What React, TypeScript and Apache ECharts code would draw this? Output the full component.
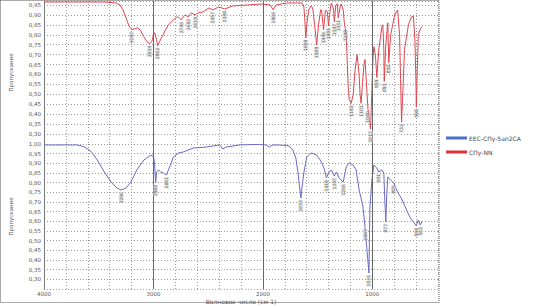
import React, { useEffect, useRef } from "react";
import * as echarts from "echarts";

// Top panel (red) spectrum: [wavenumber cm-1, transmittance]
const redSpectrum: [number, number][] = [
  [4000, 0.965], [3720, 0.965], [3449, 0.965], [3341, 0.96], [3305, 0.95], [3278, 0.925],
  [3251, 0.885], [3224, 0.845], [3197, 0.825], [3170, 0.83], [3143, 0.835], [3116, 0.82],
  [3088, 0.79], [3061, 0.765], [3034, 0.755], [3016, 0.765], [2998, 0.8], [2989, 0.81],
  [2971, 0.775], [2962, 0.745], [2944, 0.765], [2917, 0.795], [2890, 0.825], [2863, 0.85],
  [2836, 0.865], [2809, 0.88], [2782, 0.89], [2764, 0.885], [2746, 0.875], [2727, 0.89],
  [2709, 0.9], [2682, 0.89], [2655, 0.91], [2619, 0.9], [2592, 0.91], [2547, 0.915],
  [2493, 0.935], [2457, 0.925], [2403, 0.94], [2348, 0.93], [2276, 0.945], [2141, 0.95],
  [2006, 0.955], [1933, 0.95], [1906, 0.925], [1879, 0.95], [1780, 0.96], [1644, 0.96],
  [1626, 0.945], [1617, 0.875], [1608, 0.785], [1599, 0.85], [1581, 0.925], [1563, 0.945],
  [1545, 0.935], [1527, 0.85], [1509, 0.75], [1491, 0.85], [1473, 0.925], [1464, 0.925],
  [1446, 0.825], [1428, 0.925], [1410, 0.915], [1401, 0.845], [1383, 0.935], [1374, 0.96],
  [1356, 0.935], [1347, 0.865], [1334, 0.95], [1320, 0.955], [1311, 0.885], [1293, 0.945],
  [1284, 0.955], [1266, 0.925], [1257, 0.865], [1248, 0.835], [1239, 0.8], [1230, 0.675],
  [1221, 0.55], [1212, 0.475], [1193, 0.455], [1175, 0.5], [1157, 0.625], [1139, 0.7],
  [1121, 0.6], [1112, 0.5], [1103, 0.455], [1094, 0.525], [1076, 0.65], [1067, 0.675],
  [1053, 0.55], [1040, 0.425], [1031, 0.4], [1017, 0.325], [1004, 0.525], [995, 0.675],
  [986, 0.74], [972, 0.7], [959, 0.585], [941, 0.725], [913, 0.84], [904, 0.85],
  [895, 0.725], [891, 0.565], [877, 0.75], [859, 0.86], [850, 0.66], [832, 0.8],
  [796, 0.9], [769, 0.925], [751, 0.8], [742, 0.575], [733, 0.36], [724, 0.475],
  [706, 0.725], [670, 0.85], [643, 0.89], [625, 0.895], [611, 0.775], [602, 0.575],
  [598, 0.435], [589, 0.625], [580, 0.8], [562, 0.83], [544, 0.84],
];

// Bottom panel (blue) spectrum
const blueSpectrum: [number, number][] = [
  [4000, 0.995], [3810, 0.995], [3693, 0.995], [3630, 0.985], [3567, 0.96], [3513, 0.917],
  [3449, 0.855], [3386, 0.803], [3332, 0.772], [3296, 0.762], [3251, 0.772], [3206, 0.803],
  [3152, 0.866], [3088, 0.917], [3025, 0.943], [2998, 0.933], [2989, 0.891], [2980, 0.8],
  [2971, 0.855], [2953, 0.866], [2935, 0.855], [2908, 0.85], [2881, 0.84], [2863, 0.866],
  [2845, 0.891], [2818, 0.933], [2773, 0.953], [2727, 0.959], [2637, 0.979], [2520, 0.984],
  [2394, 0.995], [2367, 0.974], [2339, 0.984], [2213, 0.995], [2033, 0.998], [1969, 0.995],
  [1942, 0.984], [1915, 0.995], [1852, 0.995], [1762, 0.99], [1726, 0.969], [1699, 0.928],
  [1680, 0.855], [1667, 0.788], [1653, 0.72], [1640, 0.788], [1626, 0.85], [1599, 0.933],
  [1572, 0.948], [1554, 0.953], [1509, 0.943], [1464, 0.907], [1437, 0.866], [1419, 0.824],
  [1401, 0.85], [1374, 0.866], [1347, 0.834], [1329, 0.855], [1302, 0.824], [1266, 0.803],
  [1239, 0.881], [1212, 0.902], [1175, 0.891], [1148, 0.866], [1121, 0.762], [1103, 0.72],
  [1085, 0.674], [1067, 0.571], [1049, 0.452], [1031, 0.333], [1022, 0.674], [1004, 0.814],
  [986, 0.891], [959, 0.876], [941, 0.855], [913, 0.866], [895, 0.85], [886, 0.71],
  [877, 0.597], [868, 0.736], [859, 0.829], [832, 0.814], [805, 0.798], [769, 0.752],
  [742, 0.726], [715, 0.695], [679, 0.648], [652, 0.617], [625, 0.597], [598, 0.576],
  [580, 0.607], [562, 0.581], [544, 0.602],
];

// Labelled absorption minima
const redPeaks: [number, number][] = [
  [3197, 0.825], [3034, 0.755], [2962, 0.745], [2746, 0.875], [2682, 0.89], [2619, 0.9],
  [2457, 0.925], [2348, 0.93], [1906, 0.925], [1608, 0.785], [1509, 0.75], [1446, 0.825],
  [1401, 0.845], [1347, 0.865], [1311, 0.885], [1248, 0.835], [1193, 0.455], [1103, 0.455],
  [1040, 0.425], [1017, 0.325], [959, 0.585], [891, 0.565], [850, 0.66], [733, 0.36], [598, 0.435],
];
const bluePeaks: [number, number][] = [
  [3296, 0.762], [2980, 0.8], [2881, 0.84], [1653, 0.72], [1419, 0.824], [1347, 0.834],
  [1266, 0.803], [1067, 0.571], [1031, 0.333], [941, 0.855], [877, 0.597], [805, 0.798],
  [598, 0.576], [562, 0.581],
];

const xMajorLines = [1000, 2000, 3000];
const seriesNames = ["ЕЕС-СПу-5ап2СА", "СПу-NN"];
const yName = "Пропускание";
const xName = "Волновое число (см-1)";

const FONT = "DejaVu Sans";
const fmt = (v: number) => v.toFixed(2).replace(".", ",");

export default function App() {
  const ref = useRef<HTMLDivElement>(null);
  useEffect(() => {
    if (!ref.current) return;
    const chart = echarts.init(ref.current, undefined, { renderer: "svg" });
    const grids = [
      { left: 39, top: 1, width: 399, height: 143 },
      { left: 39, top: 144, width: 399, height: 145 },
    ];
    const xAxisBase = (i: number) => ({
      type: "value",
      gridIndex: i,
      min: 400,
      max: 4000,
      interval: 200,
      inverse: true,
      axisLine: { show: false },
      axisTick: { show: false },
      splitLine: { show: true, lineStyle: { color: "#9a9a9a", type: [1, 2], width: 1 } },
      axisLabel: {
        show: i === 1,
        fontSize: 5.5,
        fontFamily: FONT,
        color: "#555",
        margin: 2,
        formatter: (v: number) => (v % 1000 === 0 ? String(v) : ""),
      },
      name: i === 1 ? xName : "",
      nameLocation: "middle",
      nameGap: 9,
      nameTextStyle: { fontSize: 6, fontFamily: FONT, color: "#555" },
    });
    const yAxisBase = (i: number) => ({
      type: "value",
      gridIndex: i,
      min: 0.25,
      max: i === 0 ? 0.97 : 1.0,
      interval: 0.05,
      axisLine: { show: true, lineStyle: { color: "#777", width: 1 } },
      axisTick: { show: false },
      splitLine: { show: true, lineStyle: { color: "#9a9a9a", type: [1, 2], width: 1 } },
      axisLabel: {
        fontSize: 5.5,
        fontFamily: FONT,
        color: "#555",
        margin: 3,
        showMinLabel: false,
        showMaxLabel: i === 1,
        formatter: fmt,
      },
      name: yName,
      nameLocation: "middle",
      nameGap: 30,
      nameTextStyle: { fontSize: 5.5, fontFamily: FONT, color: "#555" },
    });
    const peakLabel = {
      show: true,
      position: "bottom",
      distance: 2,
      rotate: 90,
      align: "right",
      verticalAlign: "middle",
      fontSize: 4.5,
      fontFamily: FONT,
      color: "#444",
      backgroundColor: "rgba(215,215,215,0.7)",
      formatter: (p: any) => String(p.value[0]),
    };
    chart.setOption({
      animation: false,
      backgroundColor: "#ffffff",
      grid: grids,
      xAxis: [xAxisBase(0), xAxisBase(1)],
      yAxis: [yAxisBase(0), yAxisBase(1)],
      legend: {
        orient: "vertical",
        left: 441,
        top: 130,
        itemWidth: 21,
        itemHeight: 3,
        itemGap: 8,
        icon: "rect",
        data: [seriesNames[0], seriesNames[1]],
        textStyle: { fontSize: 6, fontFamily: FONT, color: "#444", padding: [0, 0, 0, -3] },
      },
      graphic: [
        {
          type: "rect",
          shape: { x: 0.5, y: 0.5, width: 438.5, height: 302 },
          style: { fill: "none", stroke: "#555", lineWidth: 1, lineDash: [1, 1] },
          silent: true,
        },
      ],
      series: [
        {
          name: seriesNames[0],
          type: "line",
          xAxisIndex: 1,
          yAxisIndex: 1,
          data: blueSpectrum,
          showSymbol: false,
          symbol: "none",
          color: "#4a6fd0",
          lineStyle: { color: "#6a6ac8", width: 1 },
          markLine: {
            silent: true,
            symbol: "none",
            label: { show: false },
            lineStyle: { color: "#666", type: "solid", width: 1 },
            data: xMajorLines.map((v) => ({ xAxis: v })),
          },
        },
        {
          name: seriesNames[1],
          type: "line",
          xAxisIndex: 0,
          yAxisIndex: 0,
          data: redSpectrum,
          showSymbol: false,
          symbol: "none",
          color: "#d9343c",
          lineStyle: { color: "#e0454f", width: 1 },
          markLine: {
            silent: true,
            symbol: "none",
            label: { show: false },
            lineStyle: { color: "#666", type: "solid", width: 1 },
            data: xMajorLines.map((v) => ({ xAxis: v })),
          },
        },
        {
          type: "scatter",
          xAxisIndex: 0,
          yAxisIndex: 0,
          data: redPeaks,
          symbolSize: 0,
          label: peakLabel,
          z: 5,
        },
        {
          type: "scatter",
          xAxisIndex: 1,
          yAxisIndex: 1,
          data: bluePeaks,
          symbolSize: 0,
          label: peakLabel,
          z: 5,
        },
      ],
    });
    return () => chart.dispose();
  }, []);
  return (
    <div
      ref={ref}
      style={{ position: "fixed", left: 0, top: 0, width: 538, height: 307, background: "#fff" }}
    />
  );
}
